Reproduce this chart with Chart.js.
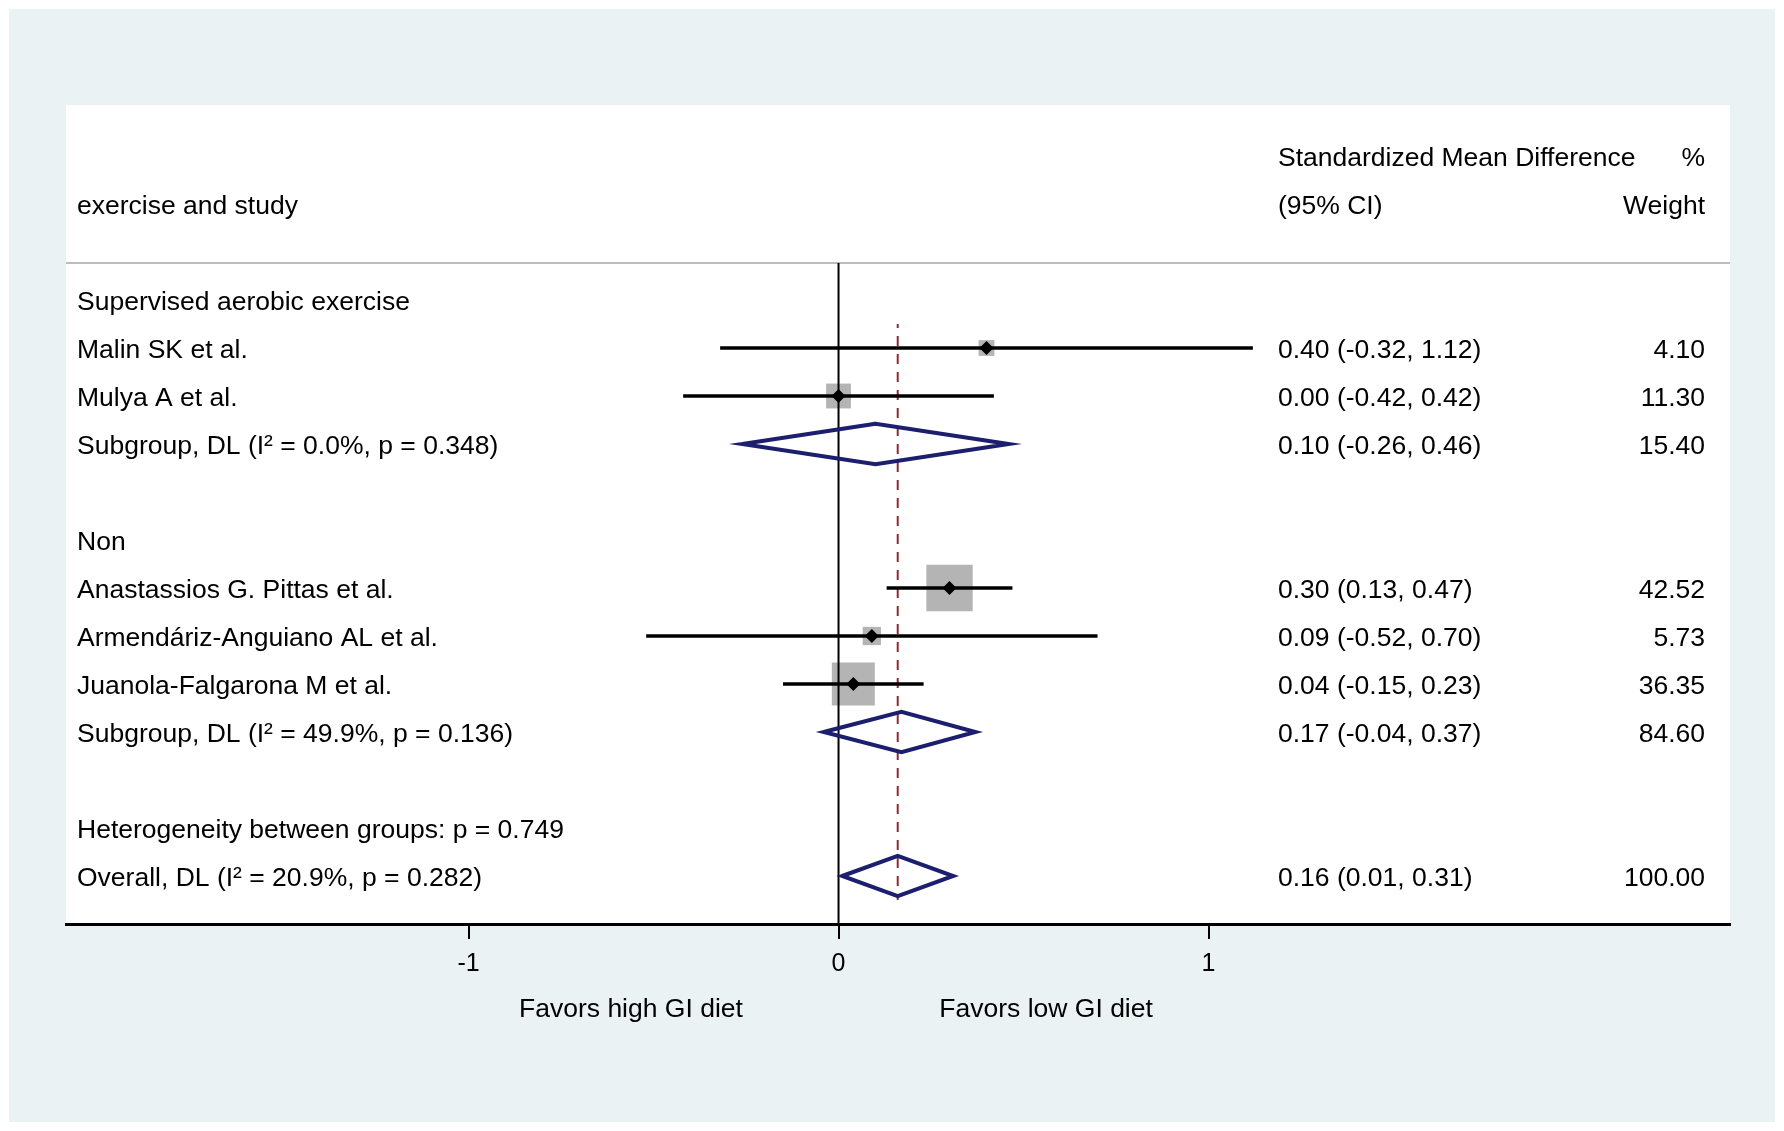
<!DOCTYPE html>
<html><head><meta charset="utf-8">
<script src="https://cdn.jsdelivr.net/npm/chart.js@4.4.1/dist/chart.umd.min.js"></script>
<style>html,body{margin:0;padding:0;background:#fff;}canvas{display:block;}</style>
</head><body>
<canvas id="c" width="1784" height="1131"></canvas>
<script>
// ---- data ----
const headerLeft = ["exercise and study"];
const headerMid = ["Standardized Mean Difference", "(95% CI)"];
const headerRight = ["%", "Weight"];

const groupNames = ["Supervised aerobic exercise", "Non", "Heterogeneity between groups: p = 0.749"];
const groupRows = [0, 5, 11];

const studyNames = ["Malin SK et al.", "Mulya A et al.", "Anastassios G. Pittas et al.", "Armendáriz-Anguiano AL et al.", "Juanola-Falgarona M et al."];
const studyRows = [1, 2, 6, 7, 8];
const studyES = [0.40, 0.00, 0.30, 0.09, 0.04];
const studyLo = [-0.32, -0.42, 0.13, -0.52, -0.15];
const studyHi = [1.12, 0.42, 0.47, 0.70, 0.23];
const studyWeight = [4.10, 11.30, 42.52, 5.73, 36.35];

const pooledNames = ["Subgroup, DL (I\u00B2 = 0.0%, p = 0.348)", "Subgroup, DL (I\u00B2 = 49.9%, p = 0.136)", "Overall, DL (I\u00B2 = 20.9%, p = 0.282)"];
const pooledRows = [3, 9, 12];
const pooledES = [0.10, 0.17, 0.16];
const pooledLo = [-0.26, -0.04, 0.01];
const pooledHi = [0.46, 0.37, 0.31];
const pooledWeight = [15.40, 84.60, 100.00];

const tickValues = [-1, 0, 1];
const tickLabels = ["-1", "0", "1"];
const favorsLabels = ["Favors high GI diet", "Favors low GI diet"];

// ---- style constants ----
const FONT = "'Liberation Sans', Arial, Helvetica, sans-serif";
const FS = 26.5;
const NAVY = '#1b1f6e';
const MAROON = '#8e2a33';
const SEP_ROW = -0.77;
const DH = 0.42; // diamond half height in rows
const favorsX = [-0.561, 0.561];
const TEXT_DY = 2.5;

const fmt = v => v.toFixed(2);

const datasets = [];
// weight squares
datasets.push({
  type: 'scatter',
  data: studyES.map((v, i) => ({x: v, y: studyRows[i]})),
  pointStyle: 'rect',
  pointRadius: studyWeight.map(w => (6.8 * Math.sqrt(w) + 2) / Math.SQRT2),
  pointHoverRadius: studyWeight.map(w => (6.8 * Math.sqrt(w) + 2) / Math.SQRT2),
  pointBackgroundColor: '#b4b4b4',
  pointBorderWidth: 0,
  borderWidth: 0,
  order: 5
});
// zero line
datasets.push({
  type: 'line',
  data: [{x: 0, y: SEP_ROW}, {x: 0, y: 13}],
  borderColor: '#000', borderWidth: 2, pointRadius: 0, order: 4
});
// overall dashed line
datasets.push({
  type: 'line',
  data: [{x: pooledES[2], y: studyRows[0] - 0.5}, {x: pooledES[2], y: pooledRows[2] + 0.5}],
  borderColor: MAROON, borderWidth: 2, borderDash: [10, 8], borderDashOffset: 6, pointRadius: 0, order: 3
});
// diamonds
pooledES.forEach((v, i) => {
  const r = pooledRows[i];
  datasets.push({
    type: 'line',
    data: [{x: pooledLo[i], y: r}, {x: v, y: r - DH}, {x: pooledHi[i], y: r}, {x: v, y: r + DH}, {x: pooledLo[i], y: r}, {x: v, y: r - DH}],
    borderColor: NAVY, borderWidth: 4, pointRadius: 0, fill: false, tension: 0,
    borderJoinStyle: 'miter', order: 2
  });
});
// CI lines
studyES.forEach((v, i) => {
  datasets.push({
    type: 'line',
    data: [{x: studyLo[i], y: studyRows[i]}, {x: studyHi[i], y: studyRows[i]}],
    borderColor: '#000', borderWidth: 3.5, pointRadius: 0, order: 1
  });
});
// point estimate markers
datasets.push({
  type: 'scatter',
  data: studyES.map((v, i) => ({x: v, y: studyRows[i]})),
  pointStyle: 'rectRot', pointRadius: 7, pointHoverRadius: 7,
  pointBackgroundColor: '#000', pointBorderWidth: 0, borderWidth: 0, order: 0
});

const decor = {
  id: 'decor',
  beforeDraw(chart) {
    const c = chart.ctx, a = chart.chartArea;
    c.save();
    c.fillStyle = '#ffffff'; c.fillRect(0, 0, chart.width, chart.height);
    c.fillStyle = '#eaf2f3'; c.fillRect(9, 9, 1775 - 9, 1122 - 9);
    c.fillStyle = '#ffffff'; c.fillRect(a.left, a.top, a.right - a.left, a.bottom - a.top);
    const ys = chart.scales.y;
    const sy = ys.getPixelForValue(SEP_ROW);
    c.strokeStyle = '#bdbdbd'; c.lineWidth = 2;
    c.beginPath(); c.moveTo(a.left, sy); c.lineTo(a.right, sy); c.stroke();
    c.restore();
  },
  afterDraw(chart) {
    const c = chart.ctx, a = chart.chartArea, ys = chart.scales.y, xs = chart.scales.x;
    const xL = a.left + 11, xM = a.right - 452, xR = a.right - 25;
    c.save();
    c.fillStyle = '#000';
    c.font = FS + 'px ' + FONT;
    c.textBaseline = 'middle';
    const t = (s, x, row, al) => { c.textAlign = al; c.fillText(s, x, ys.getPixelForValue(row) + TEXT_DY); };
    t(headerLeft[0], xL, -2, 'left');
    t(headerMid[0], xM, -3, 'left');
    t(headerMid[1], xM, -2, 'left');
    t(headerRight[0], xR, -3, 'right');
    t(headerRight[1], xR, -2, 'right');
    groupNames.forEach((s, i) => t(s, xL, groupRows[i], 'left'));
    studyNames.forEach((s, i) => {
      t(s, xL, studyRows[i], 'left');
      t(fmt(studyES[i]) + ' (' + fmt(studyLo[i]) + ', ' + fmt(studyHi[i]) + ')', xM, studyRows[i], 'left');
      t(fmt(studyWeight[i]), xR, studyRows[i], 'right');
    });
    pooledNames.forEach((s, i) => {
      t(s, xL, pooledRows[i], 'left');
      t(fmt(pooledES[i]) + ' (' + fmt(pooledLo[i]) + ', ' + fmt(pooledHi[i]) + ')', xM, pooledRows[i], 'left');
      t(fmt(pooledWeight[i]), xR, pooledRows[i], 'right');
    });
    c.textAlign = 'center';
    favorsLabels.forEach((s, i) => c.fillText(s, xs.getPixelForValue(favorsX[i]), a.bottom + 86));
    c.restore();
  }
};

new Chart(document.getElementById('c'), {
  data: {datasets},
  options: {
    responsive: false,
    devicePixelRatio: 1,
    animation: false,
    layout: {padding: {left: 66, right: 54, top: 105, bottom: 127}},
    plugins: {legend: {display: false}, tooltip: {enabled: false}},
    events: [],
    scales: {
      x: {
        type: 'linear', position: 'bottom', min: -2.088, max: 2.4095,
        afterBuildTicks: s => { s.ticks = tickValues.map(v => ({value: v})); },
        afterFit: s => { s.height = 80; },
        ticks: {
          color: '#000', font: {family: FONT, size: 25}, padding: 10,
          maxRotation: 0, autoSkip: false,
          callback: v => { const k = tickValues.indexOf(v); return k >= 0 ? tickLabels[k] : ''; }
        },
        grid: {drawOnChartArea: false, drawTicks: true, tickLength: 15, color: '#000', lineWidth: 2},
        border: {display: true, color: '#000', width: 3}
      },
      y: {type: 'linear', min: -4.0625, max: 13, reverse: true, display: false}
    }
  },
  plugins: [decor]
});
</script>
</body></html>
